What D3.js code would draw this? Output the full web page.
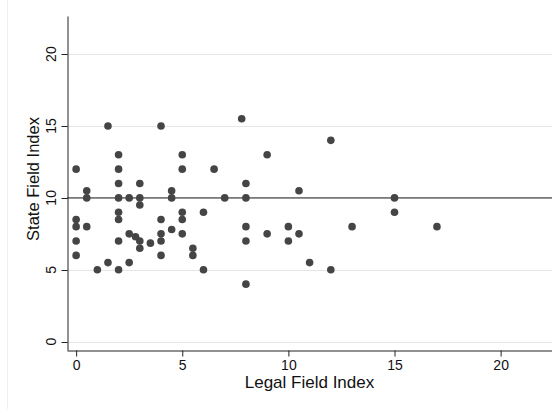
<!DOCTYPE html>
<html>
<head>
<meta charset="utf-8">
<script src="https://d3js.org/d3.v7.min.js"></script>
<style>
body { margin: 0; background: #fff; font-family: 'Liberation Sans', Arial, sans-serif; }
svg { display: block; }
.grid line { stroke: #e6e6e6; stroke-width: 1; }
.axis path, .axis line { stroke: #222; }
.axis text { font-size: 14px; fill: #111; font-family: 'Liberation Sans', Arial, sans-serif; }
</style>
</head>
<body>
<svg width="552" height="409"></svg>
<script>
// legal field index (x) and state field index (y), one entry per observation
var legalIndex = [0, 0, 0, 0, 0,
	0.5, 0.5, 0.5,
	1,
	1.5, 1.5,
	2, 2, 2, 2, 2, 2, 2, 2,
	2.5, 2.5, 2.5,
	2.8,
	3, 3, 3, 3, 3,
	3.5,
	4, 4, 4, 4, 4,
	4.5, 4.5, 4.5,
	5, 5, 5, 5, 5,
	5.5, 5.5,
	6, 6,
	6.5,
	7,
	7.8,
	8, 8, 8, 8, 8,
	9, 9,
	10, 10,
	10.5, 10.5,
	11,
	12, 12,
	13,
	15, 15,
	17];
var stateIndex = [12, 8.5, 8, 7, 6,
	10.5, 10, 8,
	5,
	15, 5.5,
	13, 12, 11, 10, 9, 8.5, 7, 5,
	10, 7.5, 5.5,
	7.3,
	11, 10, 9.5, 7, 6.5,
	6.85,
	15, 8.5, 7.5, 7, 6,
	10.5, 10, 7.8,
	13, 12, 9, 8.5, 7.5,
	6.5, 6,
	9, 5,
	12,
	10,
	15.5,
	11, 10, 8, 7, 4,
	13, 7.5,
	8, 7,
	10.5, 7.5,
	5.5,
	14, 5,
	8,
	10, 9,
	8];
var tickValues = [0, 5, 10, 15, 20];
var refLine = 10;
var xTitle = "Legal Field Index";
var yTitle = "State Field Index";

var svg = d3.select("svg");

var x = d3.scaleLinear().domain([-0.43, 22.42]).range([67, 552]);
var y = d3.scaleLinear().domain([-0.58, 22.65]).range([350, 16]);

var points = legalIndex.map(function (d, i) { return [d, stateIndex[i]]; });

// faint outer frame on the left
svg.append("line")
	.attr("x1", 7.5).attr("x2", 7.5).attr("y1", 0).attr("y2", 409)
	.attr("stroke", "#f0f0f0");

// horizontal grid
svg.append("g").attr("class", "grid")
	.selectAll("line").data(tickValues).enter().append("line")
	.attr("x1", 67).attr("x2", 552)
	.attr("y1", function (d) { return Math.round(y(d)) + 0.5; })
	.attr("y2", function (d) { return Math.round(y(d)) + 0.5; });

// reference line
svg.append("line")
	.attr("x1", 67).attr("x2", 552)
	.attr("y1", y(refLine)).attr("y2", y(refLine))
	.attr("stroke", "#7a7a7a").attr("stroke-width", 1.6);

// y axis
var yAxis = svg.append("g").attr("class", "axis")
	.attr("transform", "translate(67.5,0)")
	.call(d3.axisLeft(y).tickValues(tickValues).tickSize(6).tickSizeOuter(0).tickPadding(6));
yAxis.selectAll("text")
	.attr("transform", function () { return "rotate(-90)"; })
	.attr("x", function (d) { return -y(d); })
	.attr("y", -12)
	.attr("dy", "0")
	.attr("text-anchor", "middle");
yAxis.selectAll(".tick").attr("transform", null);
yAxis.selectAll(".tick line")
	.attr("y1", function (d) { return Math.round(y(d)) + 0.5; })
	.attr("y2", function (d) { return Math.round(y(d)) + 0.5; });

// x axis
svg.append("g").attr("class", "axis")
	.attr("transform", "translate(0,350.5)")
	.call(d3.axisBottom(x).tickValues(tickValues).tickSize(6).tickSizeOuter(0).tickPadding(4));

// axis titles
svg.append("text")
	.attr("x", (67 + 552) / 2).attr("y", 388)
	.attr("text-anchor", "middle")
	.style("font-size", "17px").style("fill", "#111")
	.text(xTitle);
svg.append("text")
	.attr("transform", "translate(39,179) rotate(-90)")
	.attr("text-anchor", "middle")
	.style("font-size", "16.5px").style("fill", "#111")
	.text(yTitle);

// points
svg.append("g").selectAll("circle").data(points).enter().append("circle")
	.attr("cx", function (d) { return x(d[0]); })
	.attr("cy", function (d) { return y(d[1]); })
	.attr("r", 3.8)
	.attr("fill", "#454545");
</script>
</body>
</html>
